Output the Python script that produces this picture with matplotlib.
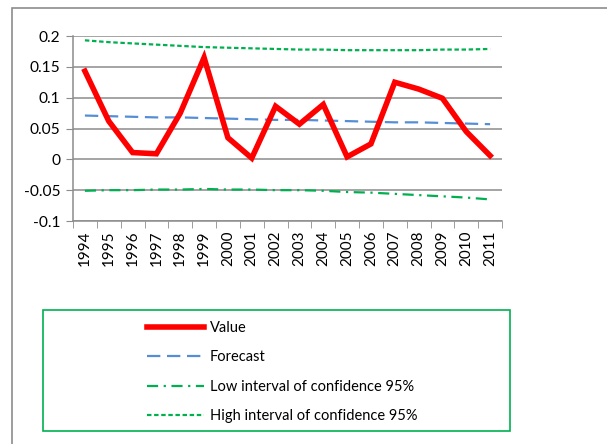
import matplotlib
matplotlib.use("Agg")
import matplotlib.pyplot as plt
from matplotlib.patches import Rectangle

years = ["1994", "1995", "1996", "1997", "1998", "1999", "2000", "2001", "2002",
         "2003", "2004", "2005", "2006", "2007", "2008", "2009", "2010", "2011"]
value = [0.143, 0.062, 0.011, 0.009, 0.075, 0.165, 0.035, 0.002, 0.086,
         0.057, 0.089, 0.004, 0.025, 0.125, 0.114, 0.099, 0.045, 0.006]
forecast = [0.071, 0.070, 0.069, 0.068, 0.068, 0.067, 0.066, 0.065, 0.064,
            0.064, 0.063, 0.062, 0.061, 0.060, 0.060, 0.059, 0.058, 0.057]
low = [-0.051, -0.050, -0.050, -0.049, -0.049, -0.048, -0.049, -0.049, -0.050,
       -0.050, -0.051, -0.053, -0.054, -0.056, -0.058, -0.060, -0.062, -0.065]
high = [0.193, 0.190, 0.188, 0.186, 0.184, 0.182, 0.181, 0.180, 0.179,
        0.178, 0.178, 0.177, 0.177, 0.177, 0.177, 0.178, 0.178, 0.179]
yticks = [-0.1, -0.05, 0, 0.05, 0.1, 0.15, 0.2]
ytick_labels = ["-0.1", "-0.05", "0", "0.05", "0.1", "0.15", "0.2"]
labels = ["Value", "Forecast", "Low interval of confidence 95%",
          "High interval of confidence 95%"]

plt.rcParams['font.family'] = ['Lato', 'DejaVu Sans']
W, H = 607, 444
fig = plt.figure(figsize=(W / 100, H / 100), dpi=100)

# outer chart border
fig.patches.append(Rectangle((12 / W, -0.1), 1.2, 1 - 8 / H + 0.1,
                             transform=fig.transFigure, fill=False,
                             edgecolor='#8c8c8c', linewidth=1.2))

ax = fig.add_axes([73 / W, 1 - 221 / H, (502 - 73) / W, (221 - 36) / H])
x = list(range(len(years)))
green = '#00b050'
ax.plot(x, value, color='#ff0000', lw=4.0, solid_joinstyle='miter', zorder=5, label=labels[0])
ax.plot(x, forecast, color='#558ed5', lw=1.6, dashes=(6, 3), zorder=4, label=labels[1])
ax.plot(x, low, color=green, lw=1.6, dashes=(5, 2.5, 1, 2.5), zorder=4, label=labels[2])
ax.plot(x, high, color=green, lw=1.6, dashes=(2, 1.2), zorder=4, label=labels[3])

ax.set_xlim(-0.5, len(years) - 0.5)
ax.set_ylim(-0.1, 0.2)
ax.set_yticks(yticks)
ax.set_yticklabels(ytick_labels, fontsize=11.2)
ax.set_xticks(x)
ax.set_xticklabels(years, rotation=90, fontsize=11)
ax.set_xticks([i - 0.5 for i in range(len(years) + 1)], minor=True)
ax.tick_params(axis='x', which='major', length=0, pad=7)
ax.tick_params(axis='x', which='minor', length=5, color='#8c8c8c', direction='out')
ax.tick_params(axis='y', length=5, color='#8c8c8c', pad=4)
ax.grid(axis='y', color='#8c8c8c', lw=1.1)
ax.set_axisbelow(True)
for s in ['top', 'right']:
    ax.spines[s].set_visible(False)
for s in ['left', 'bottom']:
    ax.spines[s].set_color('#8c8c8c')
    ax.spines[s].set_linewidth(1.1)

# legend box
fig.patches.append(Rectangle((43 / W, 1 - 431 / H), (510 - 43) / W, (431 - 310) / H,
                             transform=fig.transFigure, fill=False,
                             edgecolor=green, linewidth=1.2))
handles, labs = ax.get_legend_handles_labels()
fig.legend(handles, labs, loc='center left', bbox_to_anchor=(147 / W, 1 - 372 / H),
           frameon=False, fontsize=10.5, handlelength=3.9, handletextpad=0.4,
           labelspacing=1.05, borderpad=0, borderaxespad=0)

fig.savefig('out.png', dpi=100)
